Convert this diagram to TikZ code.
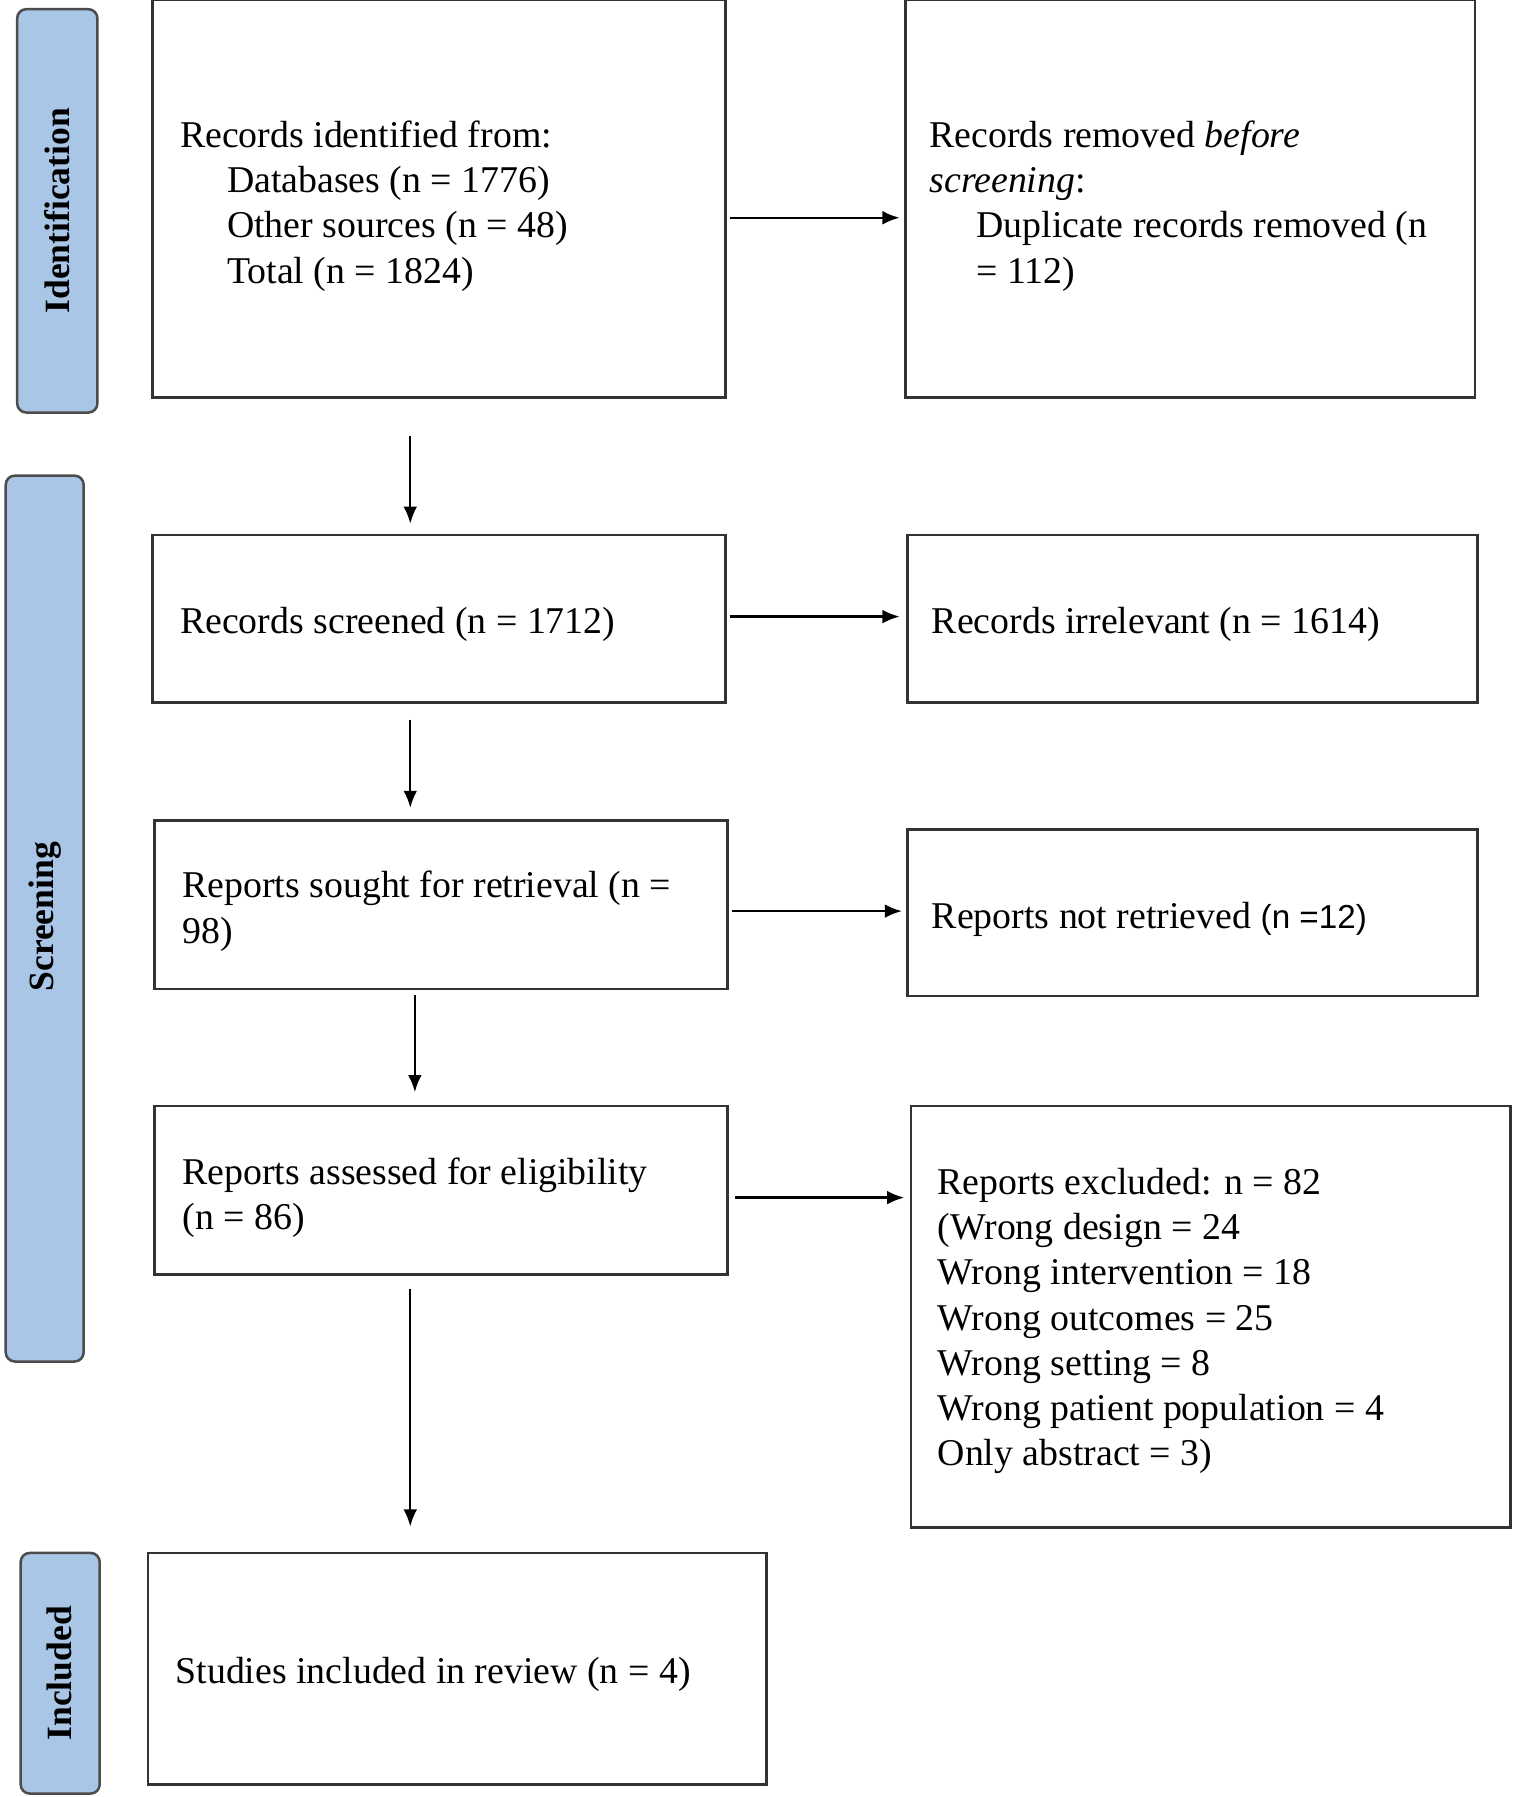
\documentclass[tikz,border=0pt]{standalone}
\usetikzlibrary{arrows.meta}
\usepackage{fontspec}
\setmainfont{Liberation Serif}
\newfontfamily\sansf{Liberation Sans}
\definecolor{sidebl}{HTML}{A9C6E6}
\begin{document}
\begin{tikzpicture}[x=1pt,y=-1pt,
  box/.style={draw=black!80,line width=2.2pt},
  side/.style={draw=black!70,fill=sidebl,line width=2.2pt,rounded corners=8pt},
  sidetxt/.style={rotate=90,font=\fontsize{31}{36}\selectfont\bfseries},
  txt/.style={anchor=north west,inner sep=0pt,align=left,font=\fontsize{33}{39.5}\selectfont},
  arr/.style={-{Latex[length=15pt,width=12pt]},line width=2pt}]
\useasboundingbox (0,0) rectangle (1320,1568);
% side bars
\draw[side] (15,8) rectangle (85,360); \node[sidetxt] (s1) at (50,184) {Identification};
\draw[side] (5,415) rectangle (73,1188); \node[sidetxt] (s2) at (39,800) {Screening};
\draw[side] (18,1355) rectangle (87,1565); \node[sidetxt] (s3) at (52,1460) {Included};
% boxes
\draw[box] (133,0) rectangle (633,347);
\draw[box] (790,0) rectangle (1287,347);
\draw[box] (133,467) rectangle (633,613);
\draw[box] (792,467) rectangle (1289,613);
\draw[box] (135,716) rectangle (635,863);
\draw[box] (792,724) rectangle (1289,869);
\draw[box] (135,965) rectangle (635,1112);
\draw[box] (795,965) rectangle (1318,1333);
\draw[box] (129,1355) rectangle (669,1557);
% texts
\node[txt] (ta) at (157,105) {Records identified from:\\\hspace*{41pt}Databases (n = 1776)\\\hspace*{41pt}Other sources (n = 48)\\\hspace*{41pt}Total (n = 1824)};
\node[txt] (tb) at (811,105) {Records removed \emph{before}\\\emph{screening}:\\\hspace*{41pt}Duplicate records removed (n\\\hspace*{41pt}= 112)};
\node[txt] (tc) at (157,530) {Records screened (n = 1712)};
\node[txt] (td) at (813,530) {Records irrelevant (n = 1614)};
\node[txt] (te) at (159,760) {Reports sought for retrieval (n =\\98)};
\node[txt] (tf) at (813,787) {Reports not retrieved {\sansf\fontsize{29}{36}\selectfont(n =12)}};
\node[txt] (tg) at (159,1010) {Reports assessed for eligibility\\(n = 86)};
\node[txt] (th) at (818,1019) {Reports excluded: n = 82\\(Wrong design = 24\\Wrong intervention = 18\\Wrong outcomes = 25\\Wrong setting = 8\\Wrong patient population = 4\\Only abstract = 3)};
\node[txt] (ti) at (153,1446) {Studies included in review (n = 4)};
% arrows
\coordinate (a1) at (637,190); \coordinate (a2) at (785,190);
\coordinate (b1) at (637,538); \coordinate (b2) at (785,538);
\coordinate (c1) at (639,795); \coordinate (c2) at (787,795);
\coordinate (d1) at (641,1045); \coordinate (d2) at (789,1045);
\coordinate (e1) at (358,380); \coordinate (e2) at (358,457);
\coordinate (f1) at (358,628); \coordinate (f2) at (358,705);
\coordinate (g1) at (362,868); \coordinate (g2) at (362,953);
\coordinate (h1) at (358,1125); \coordinate (h2) at (358,1332);
\foreach \p in {a,b,c,d,e,f,g,h} \draw[arr] (\p1) -- (\p2);
\end{tikzpicture}
\end{document}
